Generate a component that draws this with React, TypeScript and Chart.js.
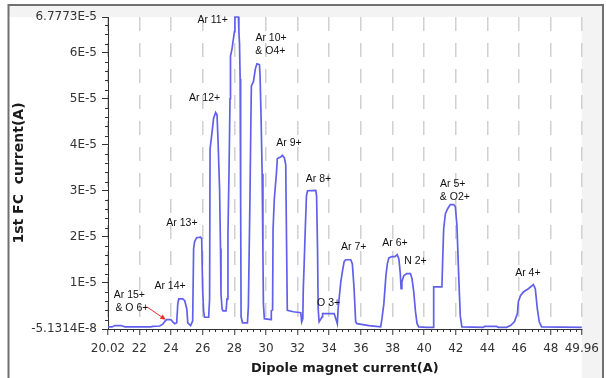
import React, { useEffect, useRef } from "react";
import { Chart, registerables } from "chart.js";

Chart.register(...registerables);

// Scan of the 1st Faraday cup current vs. dipole magnet current
const dipoleCurrent = [
  20.02, 20.27, 20.46, 20.84, 21.09, 22.72, 22.85, 23.29, 23.48, 23.61, 23.73, 23.99, 24.11, 24.24, 24.36,
  24.43, 24.49, 24.74, 24.87, 25.0, 25.06, 25.24, 25.37, 25.43, 25.49, 25.62, 25.87, 25.94, 26.0, 26.06,
  26.12, 26.38, 26.44, 26.47, 26.57, 26.69, 26.82, 26.91, 26.98, 27.07, 27.13, 27.16, 27.23, 27.29, 27.48,
  27.54, 27.6, 27.67, 27.73, 27.76, 27.86, 27.92, 28.01, 28.04, 28.26, 28.29, 28.33, 28.37, 28.4, 28.43,
  28.52, 28.83, 28.89, 28.99, 29.05, 29.08, 29.21, 29.33, 29.43, 29.59, 29.63, 29.69, 29.76, 29.81, 29.84,
  29.9, 30.32, 30.34, 30.42, 30.45, 30.53, 30.66, 30.72, 30.95, 31.03, 31.16, 31.25, 31.3, 31.35, 31.73,
  32.2, 32.26, 32.33, 32.36, 32.42, 32.48, 32.56, 32.63, 33.15, 33.2, 33.26, 33.3, 33.36, 33.55, 33.58,
  34.31, 34.46, 34.51, 34.56, 34.73, 34.83, 34.94, 35.04, 35.36, 35.46, 35.57, 35.67, 35.76, 36.51, 37.25,
  37.33, 37.45, 37.58, 37.67, 37.77, 37.96, 38.15, 38.29, 38.4, 38.49, 38.54, 38.59, 38.71, 38.9, 39.13,
  39.23, 39.34, 39.45, 39.55, 39.66, 40.16, 40.57, 40.6, 41.12, 41.17, 41.23, 41.34, 41.48, 41.65, 41.86,
  41.97, 42.07, 42.18, 42.28, 42.38, 43.75, 43.81, 44.57, 44.69, 45.2, 45.45, 45.7, 45.89, 45.95, 46.08,
  46.27, 46.58, 46.9, 47.02, 47.15, 47.27, 47.42, 49.96,
];

const fcCurrent = [
  0.04e-5, 0.04e-5, 0.07e-5, 0.07e-5, 0.04e-5, 0.04e-5, 0.05e-5, 0.06e-5, 0.1e-5, 0.16e-5, 0.2e-5, 0.2e-5, 0.15e-5, 0.11e-5, 0.13e-5,
  0.54e-5, 0.65e-5, 0.65e-5, 0.61e-5, 0.43e-5, 0.13e-5, 0.07e-5, 0.17e-5, 1.74e-5, 1.89e-5, 1.98e-5, 1.99e-5, 1.96e-5, 0.87e-5, 0.39e-5,
  0.25e-5, 0.25e-5, 0.65e-5, 3.91e-5, 4.2e-5, 4.57e-5, 4.7e-5, 4.65e-5, 4.02e-5, 3.04e-5, 1.74e-5, 0.76e-5, 0.43e-5, 0.39e-5, 0.39e-5,
  0.65e-5, 2.07e-5, 3.48e-5, 5.0e-5, 5.93e-5, 6.09e-5, 6.24e-5, 6.46e-5, 6.7773e-5, 6.7773e-5, 6.46e-5, 6.2e-5, 5.43e-5, 2.83e-5, 0.26e-5,
  0.13e-5, 0.13e-5, 0.48e-5, 2.83e-5, 4.57e-5, 5.28e-5, 5.37e-5, 5.65e-5, 5.76e-5, 5.74e-5, 5.5e-5, 4.63e-5, 3.37e-5, 1.63e-5, 0.54e-5,
  0.22e-5, 0.2e-5, 0.39e-5, 0.41e-5, 2.17e-5, 2.83e-5, 3.37e-5, 3.7e-5, 3.74e-5, 3.77e-5, 3.72e-5, 3.57e-5, 1.96e-5, 0.4e-5, 0.37e-5,
  0.35e-5, 0.15e-5, 0.22e-5, 0.87e-5, 1.46e-5, 2.11e-5, 2.89e-5, 3.0e-5, 3.01e-5, 2.89e-5, 1.74e-5, 0.43e-5, 0.15e-5, 0.26e-5, 0.33e-5,
  0.33e-5, 0.17e-5, 0.11e-5, 0.43e-5, 1.02e-5, 1.24e-5, 1.46e-5, 1.5e-5, 1.5e-5, 1.41e-5, 0.87e-5, 0.15e-5, 0.11e-5, 0.07e-5, 0.04e-5,
  0.22e-5, 0.54e-5, 1.15e-5, 1.41e-5, 1.54e-5, 1.57e-5, 1.57e-5, 1.61e-5, 1.52e-5, 1.2e-5, 0.87e-5, 1.02e-5, 1.15e-5, 1.2e-5, 1.2e-5,
  1.09e-5, 0.8e-5, 0.37e-5, 0.11e-5, 0.04e-5, 0.03e-5, 0.03e-5, 0.91e-5, 0.91e-5, 1.52e-5, 2.17e-5, 2.5e-5, 2.61e-5, 2.7e-5, 2.7e-5,
  2.65e-5, 2.24e-5, 1.15e-5, 0.28e-5, 0.04e-5, 0.03e-5, 0.05e-5, 0.05e-5, 0.03e-5, 0.03e-5, 0.07e-5, 0.15e-5, 0.33e-5, 0.59e-5, 0.72e-5,
  0.8e-5, 0.87e-5, 0.96e-5, 0.87e-5, 0.43e-5, 0.15e-5, 0.04e-5, 0.03e-5,
];

const xMin = 20.02;
const xMax = 49.96;
const yMin = -5.1314e-8;
const yMax = 6.7773e-5;

const xTickValues = [20.02, 22, 24, 26, 28, 30, 32, 34, 36, 38, 40, 42, 44, 46, 48, 49.96];
const xTickLabels = ["20.02", "22", "24", "26", "28", "30", "32", "34", "36", "38", "40", "42", "44", "46", "48", "49.96"];
const yTickValues = [-5.1314e-8, 1e-5, 2e-5, 3e-5, 4e-5, 5e-5, 6e-5, 6.7773e-5];
const yTickLabels = ["-5.1314E-8", "1E-5", "2E-5", "3E-5", "4E-5", "5E-5", "6E-5", "6.7773E-5"];

// peak annotations (text line, x in A, y in A)
const peakLabelText = [
  "Ar 15+", "& O 6+", "Ar 14+", "Ar 13+", "Ar 12+", "Ar 11+", "Ar 10+", "& O4+", "Ar 9+",
  "Ar 8+", "O 3+", "Ar 7+", "Ar 6+", "N 2+", "Ar 5+", "& O2+", "Ar 4+",
];
const peakLabelX = [
  21.37, 21.53, 23.94, 24.69, 26.12, 26.63, 30.32, 30.28, 31.46,
  33.32, 33.96, 35.55, 38.15, 39.45, 41.8, 41.94, 46.55,
];
const peakLabelY = [
  0.73e-5, 0.446e-5, 0.935e-5, 2.29e-5, 5.02e-5, 6.7e-5, 6.32e-5, 6.04e-5, 4.04e-5,
  3.25e-5, 0.565e-5, 1.78e-5, 1.87e-5, 1.46e-5, 3.14e-5, 2.87e-5, 1.22e-5,
];
const arrowStart = [22.47, 0.478e-5];
const arrowEnd = [23.67, 0.196e-5];

const decorPlugin = {
  id: "decor",
  beforeDraw(chart: any) {
    const { ctx, chartArea } = chart;
    const W = chart.width;
    const H = chart.height;
    ctx.save();
    ctx.fillStyle = "#ffffff";
    ctx.fillRect(0, 0, W, H);
    ctx.fillStyle = "#f3f3f3";
    ctx.fillRect(9, 6, 594, chartArea.top - 6);
    ctx.fillRect(chartArea.right, 6, 603 - chartArea.right, H - 6);
    ctx.strokeStyle = "#707070";
    ctx.lineWidth = 2;
    ctx.beginPath();
    ctx.moveTo(8.5, H + 5);
    ctx.lineTo(8.5, 5);
    ctx.lineTo(603, 5);
    ctx.lineTo(603, H + 5);
    ctx.stroke();
    ctx.restore();
  },
  afterDatasetsDraw(chart: any) {
    const { ctx } = chart;
    const xs = chart.scales.x;
    const ys = chart.scales.y;
    ctx.save();
    ctx.font = '10.5px "Liberation Sans"';
    ctx.fillStyle = "#111111";
    ctx.textAlign = "center";
    ctx.textBaseline = "middle";
    peakLabelText.forEach((t, i) => {
      ctx.fillText(t, xs.getPixelForValue(peakLabelX[i]), ys.getPixelForValue(peakLabelY[i]));
    });
    // red arrow
    const x1 = xs.getPixelForValue(arrowStart[0]);
    const y1 = ys.getPixelForValue(arrowStart[1]);
    const x2 = xs.getPixelForValue(arrowEnd[0]);
    const y2 = ys.getPixelForValue(arrowEnd[1]);
    const ang = Math.atan2(y2 - y1, x2 - x1);
    const hl = 6;
    ctx.strokeStyle = "#e8302a";
    ctx.fillStyle = "#e8302a";
    ctx.lineWidth = 1;
    ctx.beginPath();
    ctx.moveTo(x1, y1);
    ctx.lineTo(x2 - Math.cos(ang) * hl * 0.8, y2 - Math.sin(ang) * hl * 0.8);
    ctx.stroke();
    ctx.beginPath();
    ctx.moveTo(x2, y2);
    ctx.lineTo(x2 - hl * Math.cos(ang - 0.45), y2 - hl * Math.sin(ang - 0.45));
    ctx.lineTo(x2 - hl * Math.cos(ang + 0.45), y2 - hl * Math.sin(ang + 0.45));
    ctx.closePath();
    ctx.fill();
    ctx.restore();
  },
  afterDraw(chart: any) {
    const { ctx, chartArea } = chart;
    const xs = chart.scales.x;
    const ys = chart.scales.y;
    ctx.save();
    ctx.strokeStyle = "#333333";
    ctx.lineWidth = 1;
    ctx.beginPath();
    for (let major = 20; major < 50; major += 2) {
      for (let k = 1; k <= 4; k++) {
        const v = major + 0.4 * k;
        if (v <= xMin || v >= xMax) continue;
        const px = Math.round(xs.getPixelForValue(v)) + 0.5;
        ctx.moveTo(px, chartArea.bottom);
        ctx.lineTo(px, chartArea.bottom + 3);
      }
    }
    for (let k = 1; k < 34; k++) {
      if (k % 5 === 0) continue;
      const v = k * 0.2e-5;
      if (v >= yMax) continue;
      const py = Math.round(ys.getPixelForValue(v)) + 0.5;
      ctx.moveTo(chartArea.left - 3, py);
      ctx.lineTo(chartArea.left, py);
    }
    ctx.stroke();
    ctx.restore();
  },
};

export default function App() {
  const canvasRef = useRef<HTMLCanvasElement | null>(null);

  useEffect(() => {
    const canvas = canvasRef.current;
    if (!canvas) return;
    const points = dipoleCurrent.map((x, i) => ({ x, y: fcCurrent[i] }));
    const chart = new Chart(canvas, {
      type: "scatter",
      data: {
        datasets: [
          {
            data: points,
            showLine: true,
            borderColor: "#6060ea",
            borderWidth: 1.7,
            pointRadius: 0,
            tension: 0,
            clip: 4,
          } as any,
        ],
      },
      options: {
        responsive: false,
        animation: false,
        devicePixelRatio: 1,
        layout: { padding: { top: 17, right: 22, left: 0, bottom: 0 } },
        plugins: {
          legend: { display: false },
          tooltip: { enabled: false },
        },
        scales: {
          x: {
            type: "linear",
            min: xMin,
            max: xMax,
            afterBuildTicks: (s: any) => {
              s.ticks = xTickValues.map((v) => ({ value: v }));
            },
            afterFit: (s: any) => {
              s.height = 49;
            },
            ticks: {
              autoSkip: false,
              maxRotation: 0,
              padding: 7,
              color: "#333333",
              font: { family: "DejaVu Sans", size: 12 },
              callback: (_v: any, i: number) => xTickLabels[i],
            },
            grid: {
              color: "#d0d0d0",
              lineWidth: 1.5,
              drawOnChartArea: true,
              drawTicks: true,
              tickLength: 6,
              tickColor: "#333333",
              tickWidth: 1,
            },
            border: { display: true, color: "#333333", width: 1, dash: [14, 12] },
            title: {
              display: true,
              text: "Dipole magnet current(A)",
              color: "#1a1a1a",
              font: { family: "DejaVu Sans", size: 13, weight: "bold" },
              padding: { top: 0, bottom: 2 },
            },
          },
          y: {
            type: "linear",
            min: yMin,
            max: yMax,
            afterBuildTicks: (s: any) => {
              s.ticks = yTickValues.map((v) => ({ value: v }));
            },
            afterFit: (s: any) => {
              s.width = 108;
            },
            ticks: {
              autoSkip: false,
              padding: 5,
              color: "#333333",
              font: { family: "DejaVu Sans", size: 12 },
              callback: (_v: any, i: number) => yTickLabels[i],
            },
            grid: {
              drawOnChartArea: false,
              drawTicks: true,
              tickLength: 6,
              tickColor: "#333333",
              tickWidth: 1,
            },
            border: { display: true, color: "#333333", width: 1 },
            title: {
              display: true,
              text: "1st FC  current(A)",
              color: "#1a1a1a",
              font: { family: "DejaVu Sans", size: 14, weight: "bold" },
              padding: { top: 11, bottom: 0 },
            },
          },
        },
      },
      plugins: [decorPlugin],
    });
    return () => chart.destroy();
  }, []);

  return (
    <div style={{ position: "fixed", left: 0, top: 0, width: 606, height: 378, background: "#fff" }}>
      <canvas ref={canvasRef} width={606} height={378} style={{ width: 606, height: 378, display: "block" }} />
    </div>
  );
}
